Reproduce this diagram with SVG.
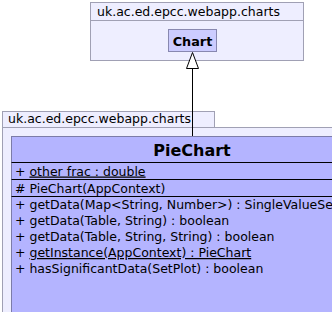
<svg xmlns="http://www.w3.org/2000/svg" width="332" height="312" viewBox="0 0 332 312">
  <style>
    .pkg { fill: #eeeeff; stroke: #a0a0b4; stroke-width: 1; }
    .cls { fill: #b4b4ff; stroke: #7c7ca8; stroke-width: 1; }
    .cls-small { fill: #ccccff; stroke: #8888b0; stroke-width: 1; }
    .sep { stroke: #000000; stroke-width: 1; }
    .lbl { font-family: "DejaVu Sans", Verdana, sans-serif; font-size: 12.5px; fill: #000000; }
    .title { font-family: "DejaVu Sans", Verdana, sans-serif; font-weight: bold; fill: #000000; text-anchor: middle; }
    .static { text-decoration: underline; }
    .edge { stroke: #000000; stroke-width: 1; fill: none; }
    .head { fill: #ffffff; stroke: #000000; stroke-width: 1; }
  </style>

  <!-- upper package holding Chart -->
  <g id="pkg-charts-upper">
    <rect class="pkg" x="90.5" y="2.5" width="213" height="58"/>
    <line x1="90.5" y1="20.5" x2="303.5" y2="20.5" stroke="#a0a0b4"/>
    <text class="lbl" x="97" y="16">uk.ac.ed.epcc.webapp.charts</text>
  </g>

  <g id="Chart">
    <rect class="cls-small" x="168.5" y="29.5" width="48" height="22"/>
    <text class="title" x="192.5" y="45.5" font-size="12.8px">Chart</text>
  </g>

  <!-- lower package holding PieChart -->
  <g id="pkg-charts-lower">
    <rect class="pkg" x="2.5" y="111.5" width="212" height="16"/>
    <rect class="pkg" x="2.5" y="127.5" width="340" height="200"/>
    <text class="lbl" x="8" y="123">uk.ac.ed.epcc.webapp.charts</text>
  </g>

  <g id="PieChart">
    <rect class="cls" x="11.5" y="136.5" width="362" height="190"/>
    <text class="title" x="192" y="155.5" font-size="16px">PieChart</text>
    <line class="sep" x1="11.5" y1="162.5" x2="373.5" y2="162.5"/>
    <text class="lbl" x="15" y="175.5">+ <tspan class="static">other frac : double</tspan></text>
    <line class="sep" x1="11.5" y1="179.5" x2="373.5" y2="179.5"/>
    <text class="lbl" x="15" y="192.5"># PieChart(AppContext)</text>
    <line class="sep" x1="11.5" y1="196.5" x2="373.5" y2="196.5"/>
    <text class="lbl" x="15" y="208.5">+ getData(Map&lt;String, Number&gt;) : SingleValueSet</text>
    <text class="lbl" x="15" y="225">+ getData(Table, String) : boolean</text>
    <text class="lbl" x="15" y="241">+ getData(Table, String, String) : boolean</text>
    <text class="lbl" x="15" y="257">+ <tspan class="static">getInstance(AppContext) : PieChart</tspan></text>
    <text class="lbl" x="15" y="273">+ hasSignificantData(SetPlot) : boolean</text>
  </g>

  <!-- generalization: PieChart extends Chart (hollow triangle at Chart) -->
  <g id="connectors">
    <line class="edge" x1="192.5" y1="136" x2="192.5" y2="68.5"/>
    <polygon class="head" points="192.5,52.5 198.5,68.5 186.5,68.5"/>
  </g>
</svg>
